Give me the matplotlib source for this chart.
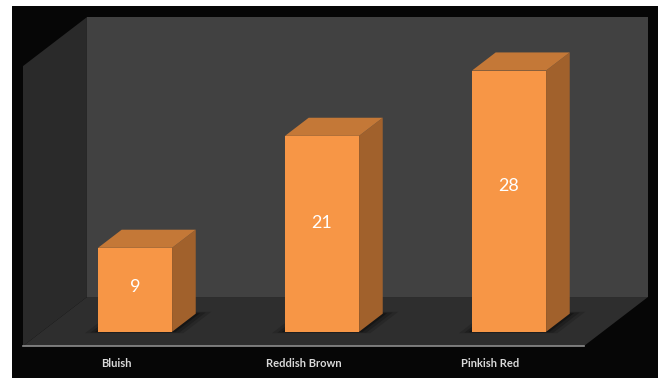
import matplotlib
matplotlib.use("Agg")
import matplotlib.pyplot as plt
from matplotlib.patches import Polygon

categories = ["Bluish", "Reddish Brown", "Pinkish Red"]
values = [9, 21, 28]
y_max = 30

# oblique projection of the depth axis (in data units)
depth_dx = 0.342
depth_dy = 5.25
bar_width = 0.396
bar_front = 0.29
bar_back = 0.66

front_color = "#F79646"
top_color = "#C47837"
side_color = "#A1612C"


def proj(x, y, d):
    return (x + d * depth_dx, y + d * depth_dy)


fig = plt.figure(figsize=(6.61, 3.78), dpi=100, facecolor="white")
# black panel, leaves a thin white margin on the left/top/right
ax = fig.add_axes([12 / 661, 0, 646 / 661, 372 / 378])
ax.set_facecolor("#060606")
px_cat, px_val = 187.0, 9.33
ax.set_xlim((12 - 23) / px_cat, (658 - 23) / px_cat)
ax.set_ylim((346 - 378) / px_val, (346 - 6) / px_val)
ax.set_axis_off()
ax.add_patch(plt.Rectangle((ax.get_xlim()[0], ax.get_ylim()[0]),
                           ax.get_xlim()[1] - ax.get_xlim()[0],
                           ax.get_ylim()[1] - ax.get_ylim()[0],
                           color="#060606", zorder=0))

n = len(categories)

# back wall
ax.add_patch(Polygon([proj(0, 0, 1), proj(n, 0, 1), proj(n, y_max, 1), proj(0, y_max, 1)],
                     closed=True, color="#414141", lw=0, zorder=1))
# left wall
ax.add_patch(Polygon([proj(0, 0, 0), proj(0, 0, 1), proj(0, y_max, 1), proj(0, y_max, 0)],
                     closed=True, color="#2a2a2a", lw=0, zorder=1))
# floor
ax.add_patch(Polygon([proj(0, 0, 0), proj(n, 0, 0), proj(n, 0, 1), proj(0, 0, 1)],
                     closed=True, color="#2e2e2e", lw=0, zorder=2))
# light front edge of the floor
ax.plot([0, n], [0, 0], color="#8c8c8c", lw=1.2, zorder=3)

for i, (cat, val) in enumerate(zip(categories, values)):
    x0 = i + 0.5 - bar_width / 2
    x1 = i + 0.5 + bar_width / 2

    # soft shadow on the floor
    for left, right, dfront, dback, a in [(0.06, 0.07, 0.03, 0.04, 0.15),
                                          (0.035, 0.045, 0.018, 0.025, 0.2),
                                          (0.015, 0.02, 0.008, 0.01, 0.3)]:
        ax.add_patch(Polygon([proj(x0 - left, 0, bar_front - dfront),
                              proj(x1 + right, 0, bar_front - dfront),
                              proj(x1 + right, 0, bar_back + dback),
                              proj(x0 - left, 0, bar_back + dback)],
                             closed=True, color="black", alpha=a, lw=0, zorder=4))

    # side face
    ax.add_patch(Polygon([proj(x1, 0, bar_front), proj(x1, 0, bar_back),
                          proj(x1, val, bar_back), proj(x1, val, bar_front)],
                         closed=True, color=side_color, lw=0, zorder=5))
    # top face
    ax.add_patch(Polygon([proj(x0, val, bar_front), proj(x1, val, bar_front),
                          proj(x1, val, bar_back), proj(x0, val, bar_back)],
                         closed=True, color=top_color, lw=0, zorder=5))
    # front face
    ax.add_patch(Polygon([proj(x0, 0, bar_front), proj(x1, 0, bar_front),
                          proj(x1, val, bar_front), proj(x0, val, bar_front)],
                         closed=True, color=front_color, lw=0, zorder=6))

    cx, cy = proj(i + 0.5, 0.574 * val - 0.4, bar_front)
    ax.text(cx, cy, str(val), color="white", fontsize=13,
            family="Lato", ha="center", va="center", zorder=7)
    ax.text(i + 0.5, -1.9, cat, color="#d9d9d9", fontsize=8, family="Lato",
            fontweight="bold", ha="center", va="center", zorder=7)

fig.savefig("out.png", dpi=100, facecolor="white")
